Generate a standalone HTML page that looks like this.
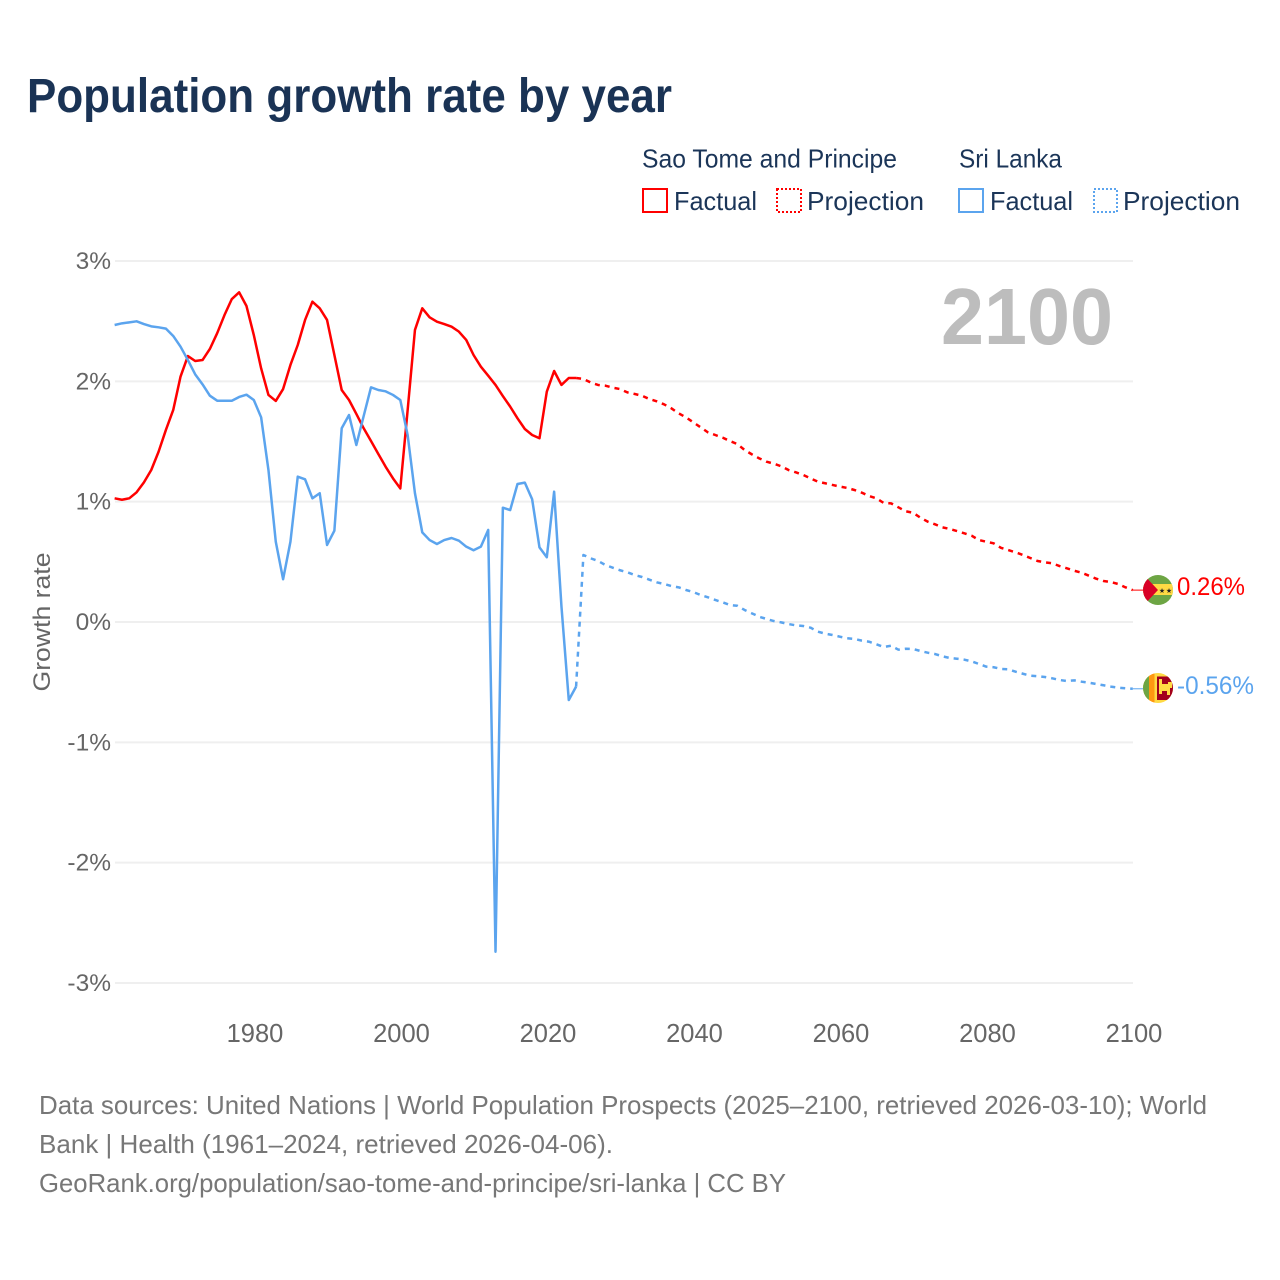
<!DOCTYPE html>
<html lang="en">
<head>
<meta charset="utf-8">
<title>Population growth rate by year</title>
<style>
html,body{margin:0;padding:0;background:#fff;}
svg{display:block;font-family:"Liberation Sans",sans-serif;}
</style>
</head>
<body>
<svg id="chart" xmlns="http://www.w3.org/2000/svg" width="1280" height="1280" viewBox="0 0 1280 1280">
  <rect x="0" y="0" width="1280" height="1280" fill="#fff"/>
  <text x="27" y="112" font-size="48" font-weight="700" fill="#1a3355" textLength="645" lengthAdjust="spacingAndGlyphs">Population growth rate by year</text>

  <g font-size="26" fill="#1b3558">
    <text x="642" y="167.5" textLength="255" lengthAdjust="spacingAndGlyphs">Sao Tome and Principe</text>
    <text x="959" y="167.5" textLength="103" lengthAdjust="spacingAndGlyphs">Sri Lanka</text>
    <g>
      <rect x="643" y="189" width="24" height="23" fill="none" stroke="#ff0000" stroke-width="2"/>
      <text x="674" y="210" textLength="83" lengthAdjust="spacingAndGlyphs">Factual</text>
    </g>
    <g>
      <rect x="777" y="189" width="24" height="23" fill="none" stroke="#ff0000" stroke-width="2" stroke-dasharray="2 2"/>
      <text x="807" y="210" textLength="117" lengthAdjust="spacingAndGlyphs">Projection</text>
    </g>
    <g>
      <rect x="959" y="189" width="24" height="23" fill="none" stroke="#5ba4ee" stroke-width="2"/>
      <text x="990" y="210" textLength="83" lengthAdjust="spacingAndGlyphs">Factual</text>
    </g>
    <g>
      <rect x="1094" y="189" width="23" height="23" fill="none" stroke="#5ba4ee" stroke-width="2" stroke-dasharray="2 2"/>
      <text x="1123" y="210" textLength="117" lengthAdjust="spacingAndGlyphs">Projection</text>
    </g>
  </g>

  <g id="grid"></g>
  <g id="yticks"></g>
  <g id="xticks"></g>

  <text transform="translate(50,622) rotate(-90)" text-anchor="middle" font-size="24" fill="#666" textLength="139" lengthAdjust="spacingAndGlyphs">Growth rate</text>
  <text x="1113" y="344" text-anchor="end" font-size="80" font-weight="700" fill="#bdbdbd" textLength="172" lengthAdjust="spacingAndGlyphs">2100</text>

  <g id="series" fill="none" stroke-width="2.5" stroke-linejoin="round"></g>

  <defs>
    <clipPath id="flag-clip-a"><circle cx="1158" cy="590" r="15"/></clipPath>
    <clipPath id="flag-clip-b"><circle cx="1158" cy="688" r="15"/></clipPath>
  </defs>
  <g clip-path="url(#flag-clip-a)">
    <rect x="1143" y="575" width="30" height="30" fill="#6da544"/>
    <rect x="1143" y="584" width="30" height="11" fill="#ffda44"/>
    <polygon points="1143,574 1158,590 1143,606" fill="#d80027"/>
    <text x="1162" y="593" font-size="7" fill="#222" text-anchor="middle">★</text>
    <text x="1169" y="593" font-size="7" fill="#222" text-anchor="middle">★</text>
  </g>
  <g clip-path="url(#flag-clip-b)">
    <rect x="1143" y="673" width="30" height="30" fill="#ffda44"/>
    <rect x="1143" y="673" width="6" height="30" fill="#6da544"/>
    <rect x="1149" y="673" width="5.5" height="30" fill="#ff9811"/>
    <rect x="1157" y="676.5" width="16" height="23.5" fill="#a2001d"/>
    <path d="M1159 679h3v5h6v-2h4v6h-2v7h-3v-4h-5v3h-3z" fill="#ffda44"/>
  </g>
  <text x="1177" y="595" font-size="25" fill="#ff0000" textLength="68" lengthAdjust="spacingAndGlyphs">0.26%</text>
  <text x="1177" y="694" font-size="25" fill="#5ba4ee" textLength="77" lengthAdjust="spacingAndGlyphs">-0.56%</text>

  <g font-size="26" fill="#777">
    <text x="39" y="1114" textLength="1168" lengthAdjust="spacingAndGlyphs">Data sources: United Nations | World Population Prospects (2025–2100, retrieved 2026-03-10); World</text>
    <text x="39" y="1153" textLength="574" lengthAdjust="spacingAndGlyphs">Bank | Health (1961–2024, retrieved 2026-04-06).</text>
    <text x="39" y="1192" textLength="747" lengthAdjust="spacingAndGlyphs">GeoRank.org/population/sao-tome-and-principe/sri-lanka | CC BY</text>
  </g>
</svg>
<script>
var yTickValues = [3, 2, 1, 0, -1, -2, -3];
var xTickYears = [1980, 2000, 2020, 2040, 2060, 2080, 2100];
var factualStartYear = 1961;
var projectionStartYear = 2024;

var saoTomeFactual = [1.028,1.016,1.028,1.078,1.16,1.263,1.415,1.596,1.762,2.04,2.21,2.169,2.177,2.269,2.40,2.551,2.684,2.74,2.626,2.385,2.108,1.887,1.837,1.936,2.136,2.302,2.51,2.662,2.607,2.51,2.219,1.928,1.845,1.729,1.61,1.504,1.396,1.29,1.194,1.11,1.76,2.427,2.607,2.532,2.496,2.476,2.454,2.413,2.344,2.219,2.122,2.047,1.97,1.878,1.79,1.693,1.604,1.554,1.527,1.914,2.086,1.97,2.028,2.028];
var saoTomeProjection = [2.028,2.02,1.99,1.97,1.964,1.947,1.936,1.908,1.895,1.88,1.853,1.834,1.809,1.776,1.734,1.701,1.659,1.618,1.576,1.554,1.532,1.504,1.479,1.43,1.393,1.36,1.332,1.316,1.294,1.263,1.244,1.222,1.194,1.166,1.153,1.139,1.126,1.114,1.097,1.075,1.047,1.028,0.989,0.986,0.953,0.92,0.908,0.867,0.834,0.812,0.787,0.773,0.756,0.737,0.717,0.681,0.667,0.654,0.617,0.598,0.579,0.557,0.532,0.507,0.496,0.488,0.465,0.446,0.426,0.41,0.385,0.36,0.341,0.332,0.316,0.288,0.265];
var sriLankaFactual = [2.468,2.482,2.49,2.499,2.476,2.457,2.449,2.438,2.377,2.288,2.177,2.058,1.975,1.881,1.839,1.839,1.839,1.87,1.889,1.845,1.701,1.263,0.667,0.355,0.667,1.208,1.186,1.028,1.07,0.64,0.759,1.61,1.72,1.471,1.712,1.95,1.928,1.917,1.887,1.845,1.554,1.07,0.745,0.681,0.648,0.681,0.698,0.676,0.626,0.596,0.626,0.765,-2.74,0.95,0.93,1.147,1.158,1.02,0.62,0.538,1.083,0.13,-0.648,-0.537];
var sriLankaProjection = [-0.537,0.557,0.529,0.507,0.474,0.451,0.43,0.413,0.39,0.374,0.352,0.33,0.316,0.299,0.288,0.266,0.249,0.224,0.205,0.183,0.164,0.141,0.135,0.1,0.072,0.044,0.025,0.008,-0.003,-0.017,-0.028,-0.033,-0.047,-0.08,-0.097,-0.108,-0.122,-0.135,-0.141,-0.155,-0.164,-0.185,-0.208,-0.197,-0.23,-0.222,-0.224,-0.241,-0.255,-0.266,-0.285,-0.299,-0.305,-0.313,-0.327,-0.349,-0.371,-0.376,-0.39,-0.393,-0.413,-0.43,-0.446,-0.451,-0.457,-0.468,-0.482,-0.49,-0.485,-0.496,-0.504,-0.515,-0.526,-0.537,-0.546,-0.551,-0.555];

var NS = 'http://www.w3.org/2000/svg';
function xScale(year) { return 253.8 + (year - 1980) * 7.325; }
function yScale(v) { return 622 - v * 120.33; }
function make(tag, parent) {
  var el = document.createElementNS(NS, tag);
  parent.appendChild(el);
  return el;
}
function linePoints(values, startYear) {
  return values.map(function (v, i) {
    return xScale(startYear + i).toFixed(2) + ',' + yScale(v).toFixed(2);
  }).join(' ');
}

var gridGroup = document.getElementById('grid');
var yTickGroup = document.getElementById('yticks');
var xTickGroup = document.getElementById('xticks');
var seriesGroup = document.getElementById('series');

yTickValues.forEach(function (v) {
  var line = make('line', gridGroup);
  
  
  line.setAttribute('x1', 115);
  line.setAttribute('x2', 1133);
  line.setAttribute('y1', yScale(v));
  line.setAttribute('y2', yScale(v));
  line.setAttribute('stroke', '#efefef');
  line.setAttribute('stroke-width', 2);
  var label = make('text', yTickGroup);
  
  
  label.setAttribute('x', 111);
  label.setAttribute('y', yScale(v) + 8);
  label.setAttribute('text-anchor', 'end');
  label.setAttribute('font-size', 24.5);
  label.setAttribute('fill', '#666');
  label.textContent = v + '%';
});

xTickYears.forEach(function (year) {
  var label = make('text', xTickGroup);
  
  
  label.setAttribute('x', xScale(year) + 1.2);
  label.setAttribute('y', 1042);
  label.setAttribute('text-anchor', 'middle');
  label.setAttribute('font-size', 25.5);
  label.setAttribute('fill', '#666');
  label.textContent = year;
});

function addConnector(values, color) {
  var last = values[values.length - 1];
  var line = make('line', seriesGroup);
  
  
  line.setAttribute('x1', xScale(2100));
  line.setAttribute('x2', 1143);
  line.setAttribute('y1', yScale(last));
  line.setAttribute('y2', yScale(last));
  line.setAttribute('stroke', color);
  line.setAttribute('stroke-width', 1);
}

var red = '#ff0000';
var blue = '#5ba4ee';

var p1 = make('polyline', seriesGroup);


p1.setAttribute('points', linePoints(saoTomeFactual, factualStartYear));
p1.setAttribute('stroke', red);

var p2 = make('polyline', seriesGroup);


p2.setAttribute('points', linePoints(saoTomeProjection, projectionStartYear));
p2.setAttribute('stroke', red);
p2.setAttribute('stroke-dasharray', '5 5');

var p3 = make('polyline', seriesGroup);


p3.setAttribute('points', linePoints(sriLankaFactual, factualStartYear));
p3.setAttribute('stroke', blue);

var p4 = make('polyline', seriesGroup);


p4.setAttribute('points', linePoints(sriLankaProjection, projectionStartYear));
p4.setAttribute('stroke', blue);
p4.setAttribute('stroke-dasharray', '5 5');

addConnector(saoTomeProjection, red);
addConnector(sriLankaProjection, blue);
</script>
</body>
</html>
